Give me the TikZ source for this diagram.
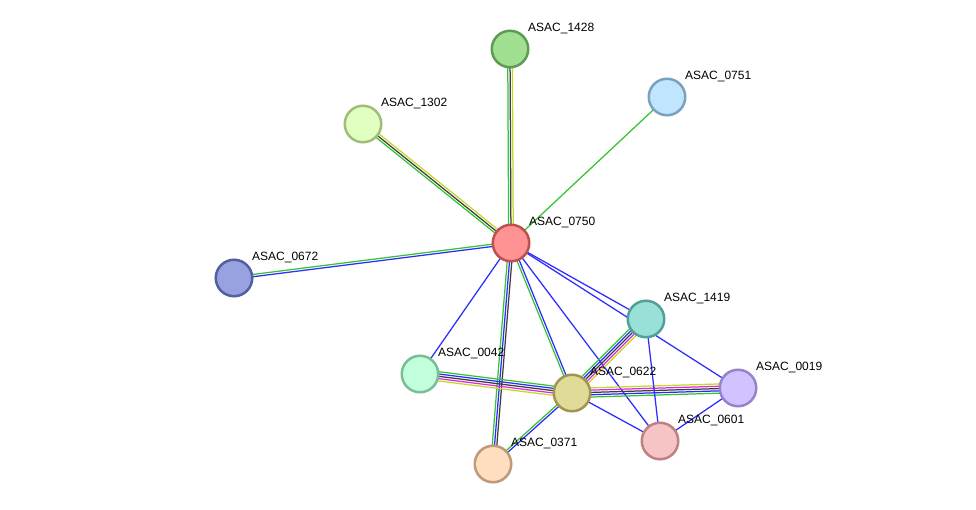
\documentclass[tikz,border=0pt]{standalone}
\usepackage{fontspec}
\setmainfont{Liberation Sans}
\usetikzlibrary{calc,backgrounds}
\definecolor{eg}{RGB}{52,196,52}
\definecolor{eb}{RGB}{44,44,255}
\definecolor{ek}{RGB}{62,62,62}
\definecolor{em}{RGB}{224,40,224}
\definecolor{ey}{RGB}{196,216,40}
\definecolor{f1428}{RGB}{160,224,144}\definecolor{d1428}{RGB}{96,154,86}
\definecolor{f0751}{RGB}{192,230,255}\definecolor{d0751}{RGB}{120,162,190}
\definecolor{f1302}{RGB}{226,255,194}\definecolor{d1302}{RGB}{160,190,122}
\definecolor{f0750}{RGB}{255,146,146}\definecolor{d0750}{RGB}{190,80,80}
\definecolor{f0672}{RGB}{152,162,224}\definecolor{d0672}{RGB}{82,96,160}
\definecolor{f1419}{RGB}{152,224,216}\definecolor{d1419}{RGB}{82,160,150}
\definecolor{f0042}{RGB}{194,255,220}\definecolor{d0042}{RGB}{122,190,150}
\definecolor{f0622}{RGB}{224,220,152}\definecolor{d0622}{RGB}{160,150,82}
\definecolor{f0019}{RGB}{210,194,255}\definecolor{d0019}{RGB}{150,132,200}
\definecolor{f0601}{RGB}{246,196,196}\definecolor{d0601}{RGB}{190,130,130}
\definecolor{f0371}{RGB}{255,222,192}\definecolor{d0371}{RGB}{192,152,122}
\tikzset{
  prot/.style={circle, minimum size=36.5pt, inner sep=0pt, line width=2.5pt},
  lbl/.style={anchor=west, inner sep=0pt, font=\fontsize{12}{14}\selectfont},
  ln/.style={line width=1.25pt}
}
\newcommand\multiedge[3]{%
  \foreach \c/\o in {#3}{%
    \draw[ln,\c] let \p1=($(#2.center)-(#1.center)$), \n1={veclen(\x1,\y1)} in
      ($(#1.center)+({-\y1/\n1*\o},{\x1/\n1*\o})$) -- ($(#2.center)+({-\y1/\n1*\o},{\x1/\n1*\o})$);
  }}
\begin{document}
\begin{tikzpicture}[x=1pt,y=1pt]
\useasboundingbox (0,0) rectangle (976,-510);
% proteins
\node[prot,draw=d1428,fill=f1428] (n1428) at (510,-49) {};
\node[prot,draw=d0751,fill=f0751] (n0751) at (667,-97) {};
\node[prot,draw=d1302,fill=f1302] (n1302) at (363,-124) {};
\node[prot,draw=d0750,fill=f0750] (n0750) at (511,-243) {};
\node[prot,draw=d0672,fill=f0672] (n0672) at (234,-278) {};
\node[prot,draw=d1419,fill=f1419] (n1419) at (646,-319) {};
\node[prot,draw=d0042,fill=f0042] (n0042) at (420,-374) {};
\node[prot,draw=d0622,fill=f0622] (n0622) at (572,-393) {};
\node[prot,draw=d0019,fill=f0019] (n0019) at (738,-388) {};
\node[prot,draw=d0601,fill=f0601] (n0601) at (660,-441) {};
\node[prot,draw=d0371,fill=f0371] (n0371) at (493,-464) {};
% labels
\foreach \n in {1428,0751,1302,0750,0672,1419,0042,0622,0019,0601,0371}{
  \node[lbl] (l\n) at ($(n\n)+(18,20)$) {ASAC\_\n};
}
% edges
\begin{scope}[on background layer]
\fill[white] (0,0) rectangle (976,-510);
\multiedge{n0750}{n1428}{eg/2.3,ek/0,ey/-2.3}
\multiedge{n0750}{n1302}{eg/2.3,ek/0,ey/-2.3}
\multiedge{n0750}{n0751}{eg/0}
\multiedge{n0750}{n0672}{eb/1.15,eg/-1.15}
\multiedge{n0750}{n0042}{eb/0}
\multiedge{n0750}{n0371}{ek/2.3,eb/0,eg/-2.3}
\multiedge{n0750}{n0622}{eb/1.15,eg/-1.15}
\multiedge{n0750}{n0601}{eb/0}
\multiedge{n0750}{n1419}{eb/0}
\multiedge{n0750}{n0019}{eb/0}
\multiedge{n0622}{n1419}{eg/4.6,eb/2.3,ek/0,em/-2.3,ey/-4.6}
\multiedge{n0622}{n0042}{ey/4.6,em/2.3,ek/0,eb/-2.3,eg/-4.6}
\multiedge{n0622}{n0019}{ey/4.6,em/2.3,ek/0,eb/-2.3,eg/-4.6}
\multiedge{n0622}{n0371}{eb/1.15,eg/-1.15}
\multiedge{n0622}{n0601}{eb/0}
\multiedge{n1419}{n0601}{eb/0}
\multiedge{n0019}{n0601}{eb/0}
\end{scope}
\end{tikzpicture}
\end{document}
